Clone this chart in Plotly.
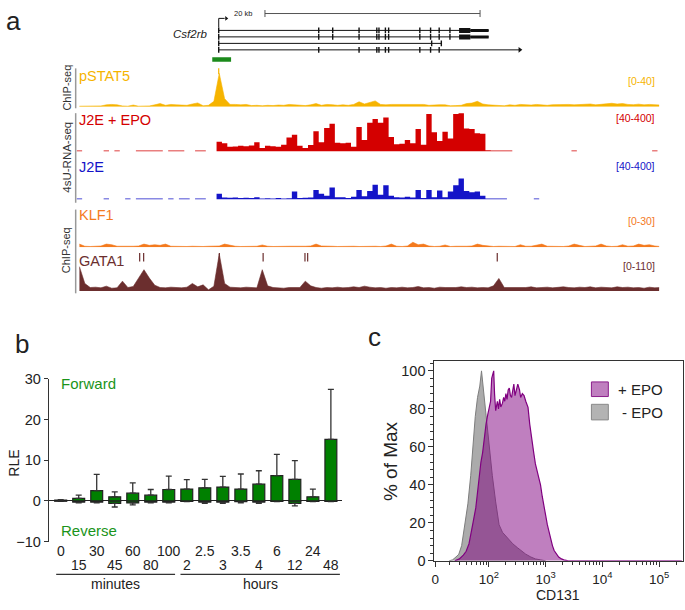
import math
import plotly.graph_objects as go

W, H = 685, 610
FONT = "Liberation Sans, Arial, sans-serif"

# ---------------- panel a : Csf2rb locus, positions in kb from the TSS
view_kb = [-13.3, 40.95]
bin_start_kb = -13.2
bin_kb = 0.5

pstat5 = [0.5, 0.5, 0.5, 0.5, 0.8, 2, 2.5, 2, 0.8, 0.5,
          1.8, 0.5, 0.5, 0.8, 2, 3.5, 1.5, 2.5, 2, 2,
          1.5, 3, 4.2, 1, 1.5, 6, 37.6, 9, 2.5, 2.5,
          2, 2.5, 1.2, 1.5, 1, 1.5, 1.2, 1.8, 1.5, 2.5,
          2.2, 1.5, 1.2, 2, 3.5, 1.5, 2.5, 2.2, 1.5, 2,
          1.5, 2.5, 5.5, 3, 5, 6.5, 2.5, 2, 2.5, 2.5,
          2.5, 3, 2.5, 3, 2.5, 1.5, 2, 2.2, 2, 1,
          1.2, 1.5, 3.5, 4, 6, 3, 2, 1.5, 1.8, 1,
          2, 1.5, 2.5, 2, 1.8, 2.5, 2, 1.5, 2.2, 2.5,
          3, 2.5, 2, 2.2, 2.5, 3, 2, 2.5, 3.5, 3.8,
          3, 3.5, 2.5, 2.2, 2.8, 2, 2.5, 2.2, 1.8]

j2e_epo = [10, 0, 0, 0, 0, 10, 0, 10, 0, 0,
           0, 10, 10, 10, 10, 10, 0, 10, 10, 10,
           0, 0, 10, 10, 0, 0, 100, 85, 50, 52,
           60, 55, 62, 95, 35, 60, 55, 50, 70, 145,
           175, 60, 35, 68, 210, 95, 245, 290, 90, 85,
           90, 50, 255, 120, 300, 340, 300, 355, 150, 75,
           80, 120, 85, 235, 70, 390, 200, 110, 205, 135,
           390, 400, 240, 235, 190, 185, 12, 10, 10, 10,
           10, 0, 0, 0, 0, 0, 0, 0, 0, 0,
           0, 0, 10, 0, 0, 0, 0, 0, 0, 0,
           0, 0, 0, 0, 0, 0, 0, 10, 0]

j2e = [10, 0, 0, 0, 0, 10, 0, 0, 0, 10,
       0, 10, 10, 10, 10, 10, 0, 10, 0, 10,
       10, 0, 10, 10, 0, 0, 60, 22, 18, 20,
       15, 18, 15, 25, 12, 14, 12, 15, 12, 14,
       85, 15, 18, 20, 100, 60, 40, 125, 25, 25,
       15, 30, 100, 35, 90, 155, 50, 150, 40, 25,
       22, 28, 20, 100, 15, 100, 25, 95, 25, 85,
       150, 220, 90, 75, 85, 40, 10, 10, 10, 10,
       0, 0, 0, 0, 0, 10, 0, 0, 0, 0,
       0, 0, 0, 0, 0, 0, 0, 0, 0, 0,
       0, 0, 0, 0, 0, 0, 0, 0, 0]

klf1 = [2.5, 0.8, 0.6, 0.6, 1, 2.5, 2, 0.8, 0.6, 0.6,
        0.8, 1, 2.5, 1.5, 2, 1.5, 2.5, 0.8, 0.6, 1,
        0.6, 0.8, 0.6, 0.6, 0.8, 0.8, 1, 2.5, 1.5, 0.8,
        0.6, 0.8, 0.8, 0.8, 1.8, 0.8, 0.6, 0.8, 0.6, 0.8,
        0.8, 0.6, 0.8, 1, 2.5, 1, 0.6, 0.8, 0.6, 0.8,
        0.6, 0.8, 0.6, 0.8, 0.6, 0.8, 0.6, 1, 2.5, 0.8,
        0.6, 1, 4, 2, 2.5, 1, 0.6, 0.8, 1.8, 0.6,
        0.8, 0.6, 0.8, 1, 2.5, 1.5, 0.8, 0.6, 0.8, 0.6,
        0.8, 0.6, 2, 0.8, 0.8, 1.5, 2.5, 0.8, 0.6, 0.8,
        0.6, 1, 2.5, 1.5, 0.6, 0.8, 1, 2.5, 1, 0.6,
        0.8, 2, 0.8, 1, 2.5, 1.5, 2, 1, 0.6]

gata1 = [72, 22, 10, 11, 9, 14, 8, 9, 29, 10,
         13, 40, 63, 38, 17, 10, 9, 11, 10, 9,
         11, 22, 12, 18, 3, 14, 110, 22, 11, 10,
         9, 11, 10, 9, 63, 15, 10, 9, 8, 10,
         9, 10, 29, 15, 10, 8, 10, 9, 11, 9,
         10, 12, 10, 14, 11, 9, 10, 8, 10, 9,
         11, 9, 10, 13, 9, 10, 8, 11, 10, 9,
         10, 12, 10, 11, 9, 10, 9, 15, 37, 10,
         10, 9, 11, 10, 12, 9, 10, 11, 9, 10,
         12, 10, 9, 11, 10, 12, 9, 11, 10, 9,
         12, 10, 11, 9, 10, 8, 11, 9, 10]

pstat5_peaks_kb = [0.0]
gata1_peaks_kb = [-7.35, -6.98, 0.06, 4.13, 8.02, 8.27, 25.9]

tx_end_kb = [25.1, 25.1, 20.7, 28.0]
tx_exons_kb = [
    [0, 9.3, 10.6, 13.05, 14.7, 14.9, 15.5, 15.8, 18.7, 19.7, 20.5, 21.5],
    [0, 9.3, 10.6, 13.05, 14.7, 14.9, 15.5, 15.8, 18.7, 19.7, 20.5, 21.5],
    [0, 19.8, 20.7],
    [0, 9.3, 13.05, 14.7, 14.9, 15.5, 15.8, 18.7, 19.7, 20.5],
]
cds_block_kb = [22.35, 23.4]
utr_block_kb = [23.4, 25.1]
scale_bar_kb = [4.3, 24.3]
stat5_site_kb = [-0.6, 1.15]

# ---------------- panel b : RLE time course
time_labels = ["0", "15", "30", "45", "60", "80", "100",
               "2", "2.5", "3", "3.5", "4", "6", "12", "24", "48"]
fwd_mean = [0.2, 0.6, 2.5, 1.0, 1.9, 1.4, 2.8, 2.9, 3.2, 3.4, 2.9, 4.1, 6.2, 5.3, 1.0, 15.1]
fwd_sd = [0.1, 0.8, 4.0, 1.2, 2.5, 1.4, 3.3, 2.3, 2.1, 2.6, 3.7, 3.3, 5.2, 4.6, 1.9, 12.3]
rev_mean = [-0.05, -0.3, -0.3, -0.6, -0.5, -0.3, -0.3, -0.1, -0.3, -0.3, -0.2, -0.3, -0.1, -0.6, -0.1, -0.1]
rev_sd = [0.05, 0.2, 0.2, 0.9, 0.5, 0.2, 0.2, 0.1, 0.3, 0.3, 0.3, 0.3, 0.1, 0.6, 0.1, 0.1]
groups = [("minutes", -0.25, 6.35), ("hours", 6.65, 15.5)]

# ---------------- panel c : CD131 flow histograms (x in log-display units, 2 = 10^2)
minus_epo_x = [1.30, 1.36, 1.42, 1.47, 1.52, 1.57, 1.60, 1.63, 1.68, 1.72, 1.76, 1.80, 1.84, 1.87,
               1.89, 1.92, 1.96, 2.00, 2.06, 2.12, 2.18, 2.24, 2.30, 2.36, 2.42, 2.50, 2.56, 2.65,
               2.74, 2.82, 2.91, 3.00]
minus_epo_y = [0, 0.5, 2, 3.5, 8, 17, 24, 30, 45, 62, 76, 86, 92, 100,
               94, 86, 72, 60, 45, 31, 19, 15, 13, 11, 9, 7, 5.5, 3.5,
               2, 1, 0.5, 0]
plus_epo_x = [1.40, 1.48, 1.55, 1.60, 1.65, 1.68, 1.72, 1.77, 1.80, 1.83, 1.86, 1.89, 1.93, 1.95,
              1.98, 2.00, 2.03, 2.05, 2.07, 2.085, 2.10, 2.12, 2.15, 2.17, 2.19, 2.21, 2.24, 2.26,
              2.28, 2.30, 2.32, 2.34, 2.36, 2.38, 2.40, 2.42, 2.44, 2.46, 2.48, 2.51, 2.54, 2.56,
              2.59, 2.62, 2.65, 2.67, 2.69, 2.72, 2.74, 2.77, 2.79, 2.82, 2.85, 2.88, 2.91, 2.94,
              2.97, 3.00, 3.03, 3.06, 3.09, 3.12, 3.15, 3.19, 3.23, 3.28, 3.32, 3.40, 5.40]
plus_epo_y = [0, 1, 3, 5, 9, 13, 20, 28, 36, 45, 52, 57, 68, 72,
              77, 80, 84, 96, 99, 100, 88, 79, 84, 80, 85, 81, 83, 86,
              84, 88, 85, 90, 91, 87, 86, 89, 93, 87, 90, 93, 90, 86,
              88, 87, 84, 82.5, 80.8, 72, 67, 61, 57, 51, 47, 44, 40, 34,
              28, 24, 19, 15, 12, 8, 5.4, 3.5, 2, 1, 0.5, 0, 0]
cd131_ticks = [1.053, 2, 3, 4, 5]
cd131_ticktext = ["0", "10<sup>2</sup>", "10<sup>3</sup>", "10<sup>4</sup>", "10<sup>5</sup>"]


def px(x):
    return x / W


def py(y):
    return 1 - y / H


fig = go.Figure()

# tracks: (values, yaxis, colour, range max, top px, bottom px, label, range label, label y, range y)
tracks = [
    (pstat5, "y2", "#f6b400", 43.3, 62, 101.3, "pSTAT5", "[0-40]", 70, 75),
    (j2e_epo, "y3", "#d40000", 420, 106, 147.3, "J2E + EPO", "[40-400]", 115, 113),
    (j2e, "y4", "#1414c8", 420, 155.4, 196.7, "J2E", "[40-400]", 163, 162),
    (klf1, "y5", "#f47a1e", 30, 207, 245.7, "KLF1", "[0-30]", 213, 219),
    (gata1, "y6", "#6b2e2e", 115.8, 250.5, 290.5, "GATA1", "[0-110]", 260, 265),
]

annotations = []
layout_axes = {}


def ann(text, x, y, size, color="#222", xanchor="center", angle=0, **kw):
    annotations.append(dict(text=text, x=px(x), y=py(y), xref="paper", yref="paper",
                            showarrow=False, xanchor=xanchor, yanchor="middle",
                            textangle=angle, font=dict(family=FONT, size=size, color=color), **kw))


for vals, yax, col, rmax, top, bot, label, rlabel, ly, ry in tracks:
    rna = yax in ("y3", "y4")
    if rna:
        # RNA coverage drawn as a step histogram
        xs = [bin_start_kb + i * bin_kb for i in range(len(vals) + 1)]
        ys = list(vals) + [vals[-1]]
        line = dict(color=col, width=0, shape="hv")
    else:
        xs = [bin_start_kb + (i + 0.5) * bin_kb for i in range(len(vals))]
        ys = vals
        line = dict(color=col, width=0.6)
    fig.add_trace(go.Scatter(x=xs, y=ys, xaxis="x", yaxis=yax, mode="lines", line=line,
                             fill="tozeroy", fillcolor=col, hoverinfo="skip"))
    n = yax[1:]
    layout_axes["yaxis" + n] = dict(domain=[py(bot), py(top)], range=[0, rmax], anchor="x",
                                    visible=False, fixedrange=True)
    ann(label, 74, ly, 14.5, col, xanchor="left")
    ann(rlabel, 657, ry, 10.5, col, xanchor="right")

fig.add_trace(go.Scatter(x=pstat5_peaks_kb, y=[40.5] * len(pstat5_peaks_kb), xaxis="x", yaxis="y2",
                         mode="markers", marker=dict(symbol="line-ns", size=5,
                                                     line=dict(color="#f6b400", width=1.2))))
fig.add_trace(go.Scatter(x=gata1_peaks_kb, y=[100] * len(gata1_peaks_kb), xaxis="x", yaxis="y6",
                         mode="markers", marker=dict(symbol="line-ns", size=6,
                                                     line=dict(color="#6b2e2e", width=1.2))))

# gene model (rows 0..3)
for r, (end, exons) in enumerate(zip(tx_end_kb, tx_exons_kb)):
    fig.add_trace(go.Scatter(x=[0, end], y=[r, r], xaxis="x", yaxis="y", mode="lines",
                             line=dict(color="#111", width=1)))
    fig.add_trace(go.Scatter(x=exons, y=[r] * len(exons), xaxis="x", yaxis="y", mode="markers",
                             marker=dict(symbol="line-ns", size=4, line=dict(color="#111", width=1.4))))
    if r < 2:
        fig.add_trace(go.Scatter(x=cds_block_kb, y=[r, r], xaxis="x", yaxis="y", mode="lines",
                                 line=dict(color="#111", width=5)))
        fig.add_trace(go.Scatter(x=utr_block_kb, y=[r, r], xaxis="x", yaxis="y", mode="lines",
                                 line=dict(color="#111", width=3)))
fig.add_trace(go.Scatter(x=[tx_end_kb[3]], y=[3], xaxis="x", yaxis="y", mode="markers",
                         marker=dict(symbol="triangle-right", size=5, color="#111")))
# TSS arrow
fig.add_trace(go.Scatter(x=[0, 0, 0.55], y=[-0.45, -1.85, -1.85], xaxis="x", yaxis="y", mode="lines",
                         line=dict(color="#111", width=1)))
fig.add_trace(go.Scatter(x=[0.7], y=[-1.85], xaxis="x", yaxis="y", mode="markers",
                         marker=dict(symbol="triangle-right", size=4, color="#111")))
# scale bar
fig.add_trace(go.Scatter(x=scale_bar_kb, y=[-2.6, -2.6], xaxis="x", yaxis="y", mode="lines+markers",
                         line=dict(color="#555", width=1),
                         marker=dict(symbol="line-ns", size=5, line=dict(color="#555", width=1))))
annotations.append(dict(text="20 kb", x=scale_bar_kb[0] - 1.0, y=-2.55, xref="x", yref="y",
                        showarrow=False, xanchor="right", yanchor="middle",
                        font=dict(family=FONT, size=7.5, color="#222")))
annotations.append(dict(text="<i>Csf2rb</i>", x=-0.9, y=0.6, xref="x", yref="y",
                        showarrow=False, xanchor="right", yanchor="middle",
                        font=dict(family=FONT, size=11.5, color="#222")))
# STAT5 site
fig.add_trace(go.Scatter(x=stat5_site_kb, y=[4.5, 4.5], xaxis="x", yaxis="y", mode="lines",
                         line=dict(color="#1b8a1b", width=4.5)))

layout_axes["xaxis"] = dict(domain=[px(73), px(659)], range=view_kb, anchor="y", visible=False,
                            fixedrange=True)
layout_axes["yaxis"] = dict(domain=[py(60), 1], range=[5.55, -3.45], anchor="x", visible=False,
                            fixedrange=True)

shapes = []
for y0, y1 in [(62, 103), (108, 200), (207, 293)]:
    shapes.append(dict(type="line", xref="paper", yref="paper", x0=px(73), x1=px(73),
                       y0=py(y0), y1=py(y1), line=dict(color="#999", width=1.5)))
ann("ChIP-seq", 64, 82, 11, "#333", angle=-90)
ann("4sU-RNA-seq", 64, 153, 11.5, "#333", angle=-90)
ann("ChIP-seq", 64, 249, 11, "#333", angle=-90)

# ---------------- panel b
idx = list(range(len(time_labels)))
fig.add_trace(go.Bar(x=idx, y=rev_mean, width=0.66, xaxis="x2", yaxis="y7",
                     marker=dict(color="#008000", line=dict(color="#222", width=1.2)),
                     error_y=dict(type="data", symmetric=False, array=[0] * len(idx),
                                  arrayminus=rev_sd, color="#333", thickness=1.3, width=3)))
fig.add_trace(go.Bar(x=idx, y=fwd_mean, width=0.66, xaxis="x2", yaxis="y7",
                     marker=dict(color="#008000", line=dict(color="#222", width=1.2)),
                     error_y=dict(type="data", symmetric=False, array=fwd_sd,
                                  arrayminus=[0] * len(idx), color="#333", thickness=1.3, width=3)))

layout_axes["xaxis2"] = dict(domain=[px(46), px(340)], range=[-0.66, 15.59], anchor="y7",
                             showticklabels=False, ticks="", showline=False, showgrid=False,
                             zeroline=False, fixedrange=True)
layout_axes["yaxis7"] = dict(domain=[py(548), py(380.7)], range=[-10, 30], anchor="x2",
                             tickvals=[-10, 0, 10, 20, 30], ticks="outside", ticklen=4,
                             tickcolor="#333", showline=True, linecolor="#333", linewidth=1.2,
                             showgrid=False, zeroline=True, zerolinecolor="#222", zerolinewidth=1.2,
                             tickfont=dict(family=FONT, size=14.5, color="#222"), fixedrange=True)

for i, lab in enumerate(time_labels):
    annotations.append(dict(text=lab, x=i, y=py(558 if i % 2 == 0 else 572), xref="x2", yref="paper",
                            showarrow=False, xanchor="center", yanchor="middle",
                            font=dict(family=FONT, size=14, color="#222")))
for name, a0, a1 in groups:
    shapes.append(dict(type="line", xref="x2", yref="paper", x0=a0, x1=a1, y0=py(581.7), y1=py(581.7),
                       line=dict(color="#333", width=1.2)))
    annotations.append(dict(text=name, x=(a0 + a1) / 2, y=py(592), xref="x2", yref="paper",
                            showarrow=False, xanchor="center", yanchor="middle",
                            font=dict(family=FONT, size=14, color="#222")))
ann("Forward", 56, 386, 15, "#1a941a", xanchor="left")
ann("Reverse", 56, 537, 15, "#1a941a", xanchor="left")
ann("RLE", 11, 467, 14, "#222", angle=-90)

# ---------------- panel c
fig.add_trace(go.Scatter(x=minus_epo_x, y=minus_epo_y, xaxis="x3", yaxis="y8", mode="lines",
                         line=dict(color="#7d7d7d", width=1), fill="tozeroy", fillcolor="#ababab"))
fig.add_trace(go.Scatter(x=plus_epo_x, y=plus_epo_y, xaxis="x3", yaxis="y8", mode="lines",
                         line=dict(color="#800080", width=1.2), fill="tozeroy",
                         fillcolor="rgba(128,0,128,0.5)"))

minor_x = [n + math.log10(k) for n in range(1, 6) for k in range(2, 10)
           if 1.1 < n + math.log10(k) < 5.4]
layout_axes["xaxis3"] = dict(domain=[px(433.3), px(682.7)], range=[1.04, 5.416], anchor="y8",
                             tickvals=cd131_ticks, ticktext=cd131_ticktext, ticks="outside",
                             ticklen=5, tickcolor="#333", showline=True, mirror=True,
                             linecolor="#333", linewidth=1, showgrid=False, zeroline=False,
                             minor=dict(tickvals=minor_x, ticks="outside", ticklen=3, tickcolor="#333"),
                             tickfont=dict(family=FONT, size=13.5, color="#222"),
                             ticklabelstandoff=1, fixedrange=True)
layout_axes["yaxis8"] = dict(domain=[py(567.7), py(362.7)], range=[0, 105.1], anchor="x3",
                             tickvals=[0, 20, 40, 60, 80, 100], ticks="outside", ticklen=5,
                             tickcolor="#333", showline=True, mirror=True, linecolor="#333",
                             linewidth=1, showgrid=False, zeroline=False,
                             minor=dict(dtick=4, ticks="outside", ticklen=3, tickcolor="#333"),
                             tickfont=dict(family=FONT, size=14.5, color="#222"), fixedrange=True)
ann("% of Max", 390, 465, 19, "#222", angle=-90)
ann("CD131", 557, 603, 14, "#222")

# legend boxes
shapes.append(dict(type="rect", xref="paper", yref="paper", x0=px(591), x1=px(608), y0=py(399), y1=py(384),
                   fillcolor="#bf7fbf", line=dict(color="#8b1f8b", width=1)))
shapes.append(dict(type="rect", xref="paper", yref="paper", x0=px(591), x1=px(608), y0=py(423), y1=py(407),
                   fillcolor="#b3b3b3", line=dict(color="#888", width=1)))
ann("+ EPO", 616, 391.5, 15, "#222", xanchor="left")
ann("- EPO", 620, 415, 15, "#222", xanchor="left")

# panel letters
ann("a", 11, 13, 26)
ann("b", 19.5, 345, 26)
ann("c", 373, 338, 26)

fig.update_layout(width=W, height=H, margin=dict(l=0, r=0, t=0, b=0),
                  paper_bgcolor="white", plot_bgcolor="white", showlegend=False,
                  barmode="overlay", font=dict(family=FONT, color="#222"),
                  annotations=annotations, shapes=shapes, **layout_axes)

# the page's default body margin would push the figure off the 685x610 window
fig.write_html("out.html", config={"displayModeBar": False},
               post_script="document.body.style.margin='0';")
